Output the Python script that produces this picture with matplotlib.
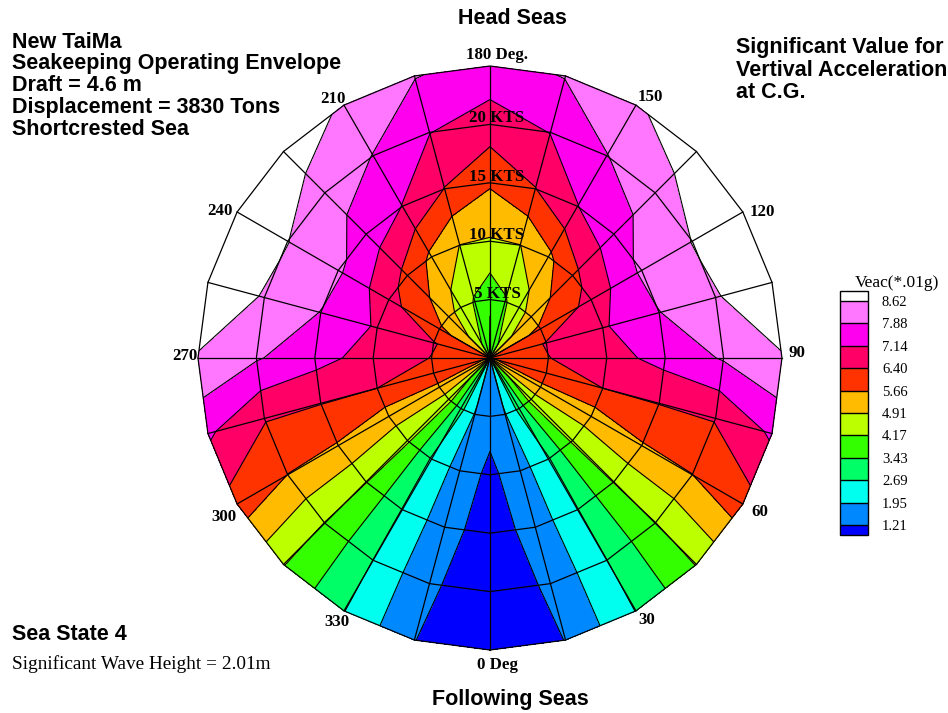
import matplotlib
matplotlib.use("Agg")
import matplotlib.pyplot as plt
from matplotlib.colors import ListedColormap, BoundaryNorm
import numpy as np

# headings (deg, 0 = following seas at the bottom) and ship speeds (knots)
headings = list(range(0, 360, 15))
speeds = [0, 5, 10, 15, 20, 25]

# significant vertical acceleration (*.01g), one list per speed ring
veac_0kt = [1.60, 2.20, 3.00, 3.90, 4.90, 5.60, 5.90, 5.70, 5.20, 4.60, 4.00, 3.40,
            3.00, 3.40, 4.00, 4.60, 5.20, 5.70, 5.90, 5.60, 4.90, 3.90, 3.00, 2.20]
veac_5kt = [1.45, 1.90, 2.90, 4.50, 5.50, 6.10, 6.38, 6.45, 5.80, 5.20, 4.60, 4.10,
            3.60, 4.10, 4.60, 5.20, 5.80, 6.45, 6.38, 6.10, 5.50, 4.50, 2.90, 1.90]
veac_10kt = [1.05, 1.60, 2.60, 4.30, 5.30, 6.40, 6.85, 7.05, 6.60, 6.20, 5.50, 4.90,
             4.85, 4.90, 5.50, 6.20, 6.60, 7.05, 6.85, 6.40, 5.30, 4.30, 2.60, 1.60]
veac_15kt = [0.90, 1.45, 2.66, 4.20, 5.60, 6.42, 7.40, 7.86, 8.00, 7.60, 7.12, 6.38,
             5.75, 6.38, 7.12, 7.60, 8.00, 7.86, 7.40, 6.42, 5.60, 4.20, 2.66, 1.45]
veac_20kt = [0.85, 1.30, 2.68, 4.15, 5.65, 6.45, 7.95, 8.58, 8.64, 8.20, 7.86, 7.16,
             6.80, 7.16, 7.86, 8.20, 8.64, 8.58, 7.95, 6.45, 5.65, 4.15, 2.68, 1.30]
veac_25kt = [0.80, 1.22, 2.71, 4.20, 6.10, 7.25, 8.58, 9.00, 9.20, 9.10, 8.50, 7.92,
             7.60, 7.92, 8.50, 9.10, 9.20, 9.00, 8.58, 7.25, 6.10, 4.20, 2.71, 1.22]

levels = [1.21, 1.95, 2.69, 3.43, 4.17, 4.91, 5.66, 6.40, 7.14, 7.88, 8.62]
band_colors = ['#0088ff', '#00ffee', '#00ff66', '#33ff00', '#bbff00',
               '#ffbb00', '#ff3300', '#ff0066', '#ff00ee', '#ff77ff']
under_color = '#0000ff'
over_color = '#ffffff'

angle_labels = ['0 Deg', '30', '60', '90', '120', '150', '180 Deg.',
                '210', '240', '270', '300', '330']
speed_labels = ['5 KTS', '10 KTS', '15 KTS', '20 KTS']

left_notes = ['New TaiMa', 'Seakeeping Operating Envelope', 'Draft = 4.6 m',
              'Displacement = 3830 Tons', 'Shortcrested Sea']
right_notes = ['Significant Value for', 'Vertival Acceleration', 'at C.G.']

SANS = 'Liberation Sans'
SERIF = 'Liberation Serif'

rows = [veac_0kt, veac_5kt, veac_10kt, veac_15kt, veac_20kt, veac_25kt]
Z = np.array([r + r[:1] for r in rows])
th = np.radians(headings + [360])
S, TH = np.meshgrid(speeds, th, indexing='ij')
X = S * np.sin(TH)
Y = -S * np.cos(TH)

fig = plt.figure(figsize=(9.48, 7.13), dpi=100)
ax = fig.add_axes([0.1842, 0.0556, 0.6653, 0.8846])
ax.set_xlim(-27, 27)
ax.set_ylim(-27, 27)
ax.set_aspect('equal')
ax.axis('off')

cmap = ListedColormap(band_colors)
cmap.set_under(under_color)
cmap.set_over(over_color)
norm = BoundaryNorm(levels, cmap.N)

cf = ax.contourf(X, Y, Z, levels=levels, cmap=cmap, norm=norm, extend='both')
ax.contour(X, Y, Z, levels=levels, colors='k', linewidths=0.8)

# polar grid: spokes every 15 deg, rings every 5 knots
smax = speeds[-1]
for h in headings:
    a = np.radians(h)
    ax.plot([0, smax * np.sin(a)], [0, -smax * np.cos(a)], color='k', lw=0.9)
for s in speeds[1:]:
    ax.plot(s * np.sin(th), -s * np.cos(th), color='k', lw=0.9)

# heading labels just outside the rim (pixel nudges off each vertex)
nudges = [(7, -15), (11, -9), (17, -8), (15, 5), (19, 0), (14, 8), (7, 11),
          (-11, 6), (-17, 1), (-13, 2), (-13, -13), (-7, -11)]
for t, (dx, dy) in zip(angle_labels, nudges):
    a = np.radians(int(t.split()[0]))
    ax.annotate(t, (smax * np.sin(a), -smax * np.cos(a)), xytext=(dx, dy),
                textcoords='offset pixels', family=SERIF, weight='bold',
                fontsize=12.2, ha='center', va='center')
for i, t in enumerate(speed_labels):
    ax.annotate(t, (0, speeds[i + 1]), xytext=(7, 6), textcoords='offset pixels',
                family=SERIF, weight='bold', fontsize=12.2, ha='center', va='center')

# legend bar
cax = fig.add_axes([840 / 948, 1 - 535 / 713, 28 / 948, 244 / 713])
cb = fig.colorbar(cf, cax=cax, ticks=levels, extendrect=True, extendfrac=0.045,
                  drawedges=True)
cb.ax.tick_params(length=0, pad=10)
cb.ax.set_yticklabels(['%.2f' % v for v in levels], family=SERIF, fontsize=10.5)
cb.outline.set_linewidth(1.0)
cb.dividers.set_linewidth(1.0)
fig.text(897 / 948, 1 - 283 / 713, 'Veac(*.01g)', family=SERIF, fontsize=12.5,
         ha='center', va='center')

tit = dict(family=SANS, weight='bold', fontsize=15.5, va='center')
fig.text(512 / 948, 1 - 18 / 713, 'Head Seas', ha='center', **tit)
fig.text(510 / 948, 1 - 699 / 713, 'Following Seas', ha='center', **tit)
for i, t in enumerate(left_notes):
    fig.text(12 / 948, 1 - (42 + 21.8 * i) / 713, t, ha='left', **tit)
for i, t in enumerate(right_notes):
    fig.text(736 / 948, 1 - (48 + 22 * i) / 713, t, ha='left', **tit)
fig.text(12 / 948, 1 - 635 / 713, 'Sea State 4', ha='left', **tit)
fig.text(12 / 948, 1 - 664 / 713, 'Significant Wave Height = 2.01m', family=SERIF,
         fontsize=13.9, ha='left', va='center')

fig.savefig('out.png', dpi=100)
